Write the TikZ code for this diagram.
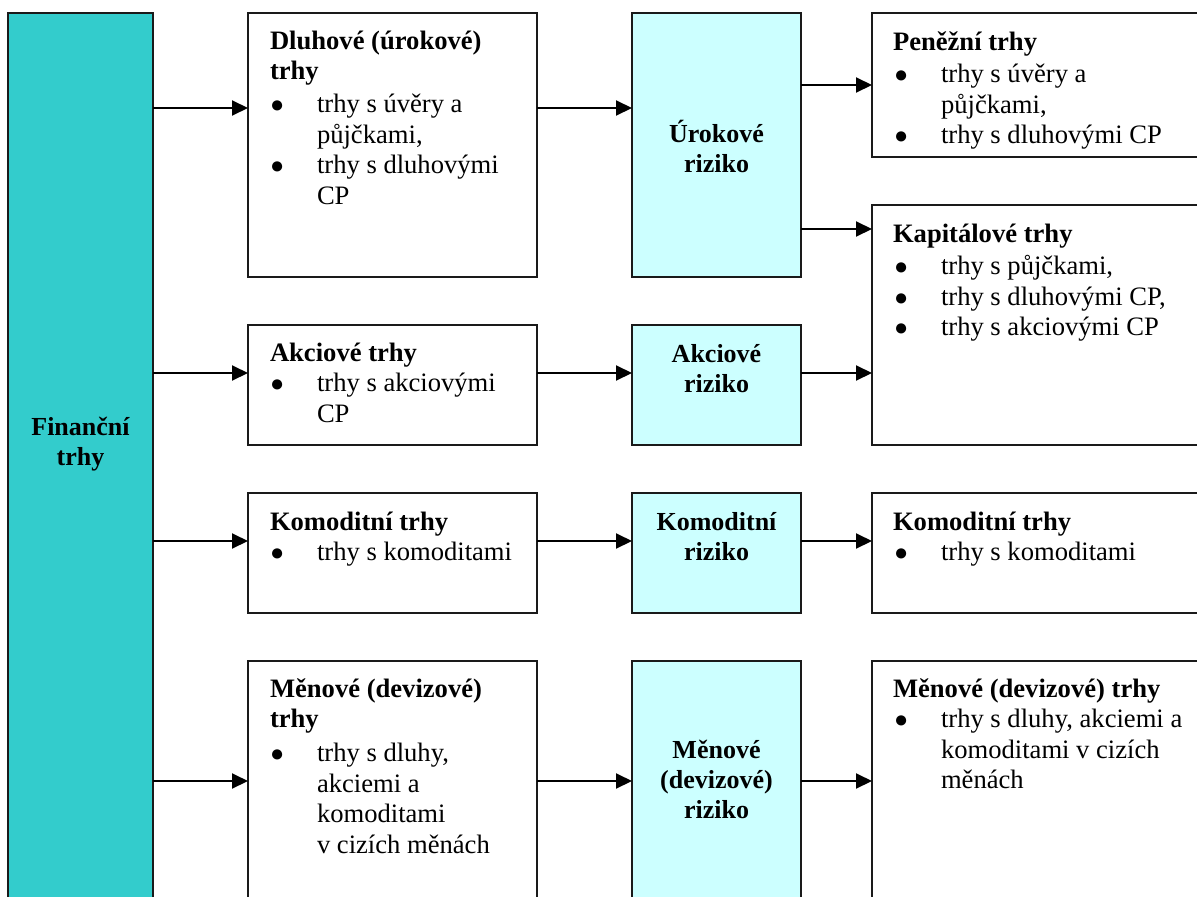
\documentclass[tikz,border=0pt]{standalone}
\usepackage{fontspec}
\setmainfont{Liberation Serif}
\usetikzlibrary{arrows.meta}
\definecolor{tealbox}{HTML}{33CCCC}
\definecolor{cyanbox}{HTML}{CCFFFF}
\definecolor{edgecol}{HTML}{1A1A1A}
\newcommand{\ttl}[1]{\multicolumn{2}{@{}l@{}}{\bfseries #1}}
\newcommand{\bigbul}{{\fontsize{23.5}{23.5}\selectfont ●}}
\newcommand{\bulA}{\makebox[47pt][l]{\bigbul}}
\newcommand{\bulB}{\makebox[48pt][l]{\hspace{1pt}\bigbul}}
\tikzset{
  box/.style={draw=edgecol, line width=1.8pt, anchor=north west, inner sep=0pt, outer sep=0pt},
  finbox/.style={box, fill=tealbox},
  riskbox/.style={box, fill=cyanbox},
  plainbox/.style={box, fill=white},
  txt/.style={anchor=base west, inner sep=0pt, outer sep=0pt, font=\fontsize{26.6}{30.5}\selectfont},
  ctxt/.style={anchor=base, inner sep=0pt, outer sep=0pt, font=\fontsize{26}{30}\selectfont\bfseries},
  arr/.style={draw=black, line width=2pt, -{Triangle[length=16pt,width=15pt]}}
}
\begin{document}
\begin{tikzpicture}[x=1pt,y=-1pt]
\useasboundingbox (0,0) rectangle (1197,897);
\clip (0,0) rectangle (1197,897);
\fill[white] (0,0) rectangle (1197,897);

% boxes
\node[finbox, minimum width=145pt, minimum height=900pt] (fin) at (8,13) {};
\node[plainbox, minimum width=289pt, minimum height=264pt] (dl) at (248,13) {};
\node[plainbox, minimum width=289pt, minimum height=120pt] (ak) at (248,325) {};
\node[plainbox, minimum width=289pt, minimum height=120pt] (ko) at (248,493) {};
\node[plainbox, minimum width=289pt, minimum height=270pt] (me) at (248,661) {};
\node[riskbox, minimum width=169pt, minimum height=264pt] (ur) at (632,13) {};
\node[riskbox, minimum width=169pt, minimum height=120pt] (akr) at (632,325) {};
\node[riskbox, minimum width=169pt, minimum height=120pt] (kor) at (632,493) {};
\node[riskbox, minimum width=169pt, minimum height=260pt] (mer) at (632,661) {};
\node[plainbox, minimum width=360pt, minimum height=144pt] (pen) at (872,13) {};
\node[plainbox, minimum width=360pt, minimum height=240pt] (kap) at (872,205) {};
\node[plainbox, minimum width=360pt, minimum height=120pt] (ko4) at (872,493) {};
\node[plainbox, minimum width=360pt, minimum height=270pt] (me4) at (872,661) {};

% arrow levels
\coordinate (l1) at (0,108);
\coordinate (l2) at (0,85);
\coordinate (l3) at (0,229);
\coordinate (l4) at (0,373);
\coordinate (l5) at (0,541);
\coordinate (l6) at (0,781);

\draw[arr] (fin.east |- l1) -- (dl.west |- l1);
\draw[arr] (dl.east |- l1) -- (ur.west |- l1);
\draw[arr] (ur.east |- l2) -- (pen.west |- l2);
\draw[arr] (ur.east |- l3) -- (kap.west |- l3);
\draw[arr] (fin.east |- l4) -- (ak.west |- l4);
\draw[arr] (ak.east |- l4) -- (akr.west |- l4);
\draw[arr] (akr.east |- l4) -- (kap.west |- l4);
\draw[arr] (fin.east |- l5) -- (ko.west |- l5);
\draw[arr] (ko.east |- l5) -- (kor.west |- l5);
\draw[arr] (kor.east |- l5) -- (ko4.west |- l5);
\draw[arr] (fin.east |- l6) -- (me.west |- l6);
\draw[arr] (me.east |- l6) -- (mer.west |- l6);
\draw[arr] (mer.east |- l6) -- (me4.west |- l6);

% centred texts
\node[ctxt] (tfin) at (80.5,435) {\begin{tabular}[t]{@{}c@{}}Finanční\\trhy\end{tabular}};
\node[ctxt] (tur) at (716.5,142) {\begin{tabular}[t]{@{}c@{}}Úrokové\\riziko\end{tabular}};
\node[ctxt] (takr) at (716.5,362) {\begin{tabular}[t]{@{}c@{}}Akciové\\riziko\end{tabular}};
\node[ctxt] (tkor) at (716.5,530) {\begin{tabular}[t]{@{}c@{}}Komoditní\\riziko\end{tabular}};
\node[ctxt] (tmer) at (716.5,758) {\begin{tabular}[t]{@{}c@{}}Měnové\\(devizové)\\riziko\end{tabular}};

% column 2 texts
\node[txt] (tdl) at (270,49) {\begin{tabular}[t]{@{}l@{}l@{}}
\ttl{Dluhové (úrokové)}\\
\ttl{trhy}\\[2.5pt]
\bulA & trhy s úvěry a\\
 & půjčkami,\\
\bulA & trhy s dluhovými\\
 & CP
\end{tabular}};
\node[txt] (tak) at (270,361) {\begin{tabular}[t]{@{}l@{}l@{}}
\ttl{Akciové trhy}\\
\bulA & trhy s akciovými\\
 & CP
\end{tabular}};
\node[txt] (tko) at (270,530) {\begin{tabular}[t]{@{}l@{}l@{}}
\ttl{Komoditní trhy}\\
\bulA & trhy s komoditami
\end{tabular}};
\node[txt] (tme) at (270,697) {\begin{tabular}[t]{@{}l@{}l@{}}
\ttl{Měnové (devizové)}\\
\ttl{trhy}\\[3.5pt]
\bulA & trhy s dluhy,\\
 & akciemi a\\
 & komoditami\\
 & v cizích měnách
\end{tabular}};

% column 4 texts
\begin{scope}
\clip (pen.north west) rectangle ([yshift=9pt]pen.south east);
\node[txt] (tpen) at (893,50) {\begin{tabular}[t]{@{}l@{}l@{}}
\ttl{Peněžní trhy}\\[2pt]
\bulB & trhy s úvěry a\\
 & půjčkami,\\
\bulB & trhy s dluhovými CP
\end{tabular}};
\end{scope}
\node[txt] (tkap) at (893,242) {\begin{tabular}[t]{@{}l@{}l@{}}
\ttl{Kapitálové trhy}\\[2pt]
\bulB & trhy s půjčkami,\\
\bulB & trhy s dluhovými CP,\\
\bulB & trhy s akciovými CP
\end{tabular}};
\node[txt] (tko4) at (893,530) {\begin{tabular}[t]{@{}l@{}l@{}}
\ttl{Komoditní trhy}\\
\bulB & trhy s komoditami
\end{tabular}};
\node[txt] (tme4) at (893,697) {\begin{tabular}[t]{@{}l@{}l@{}}
\ttl{Měnové (devizové) trhy}\\
\bulB & trhy s dluhy, akciemi a\\
 & komoditami v cizích\\
 & měnách
\end{tabular}};
\end{tikzpicture}
\end{document}
